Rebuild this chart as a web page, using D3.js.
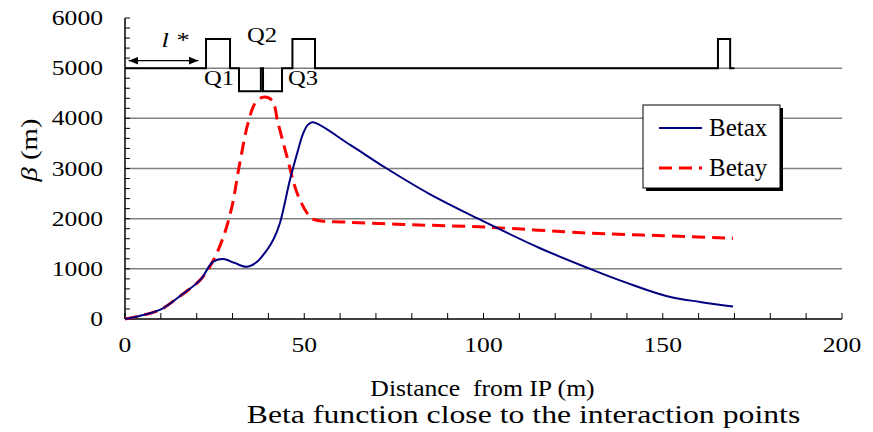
<!DOCTYPE html>
<meta charset="utf-8">
<style>
body { margin: 0; background: #fff; }
</style>
<svg width="873" height="432"></svg>
<script src="https://d3js.org/d3.v7.min.js"></script>
<script>

// beta functions (s in m, beta in m)
var betaxS = [0, 4, 10, 15, 21, 24.5, 27.3, 30.5, 33.8, 36.5, 39.6, 41.5, 43.2, 46, 48, 49.7, 51, 52.4, 62.8, 73, 85, 98.2, 115.8, 129.7, 140, 151, 160.4, 169.6];
var betax  = [0, 60, 190, 440, 780, 1140, 1195, 1120, 1040, 1120, 1375, 1600, 1910, 2770, 3300, 3700, 3870, 3920, 3470, 3000, 2490, 2010, 1410, 1000, 720, 460, 340, 250];
var betayS = [0, 4, 10, 15, 21, 24.5, 27.4, 29.8, 32, 34.3, 36.3, 38.5, 41, 42.7, 45.2, 48, 50.8, 52.4, 62, 80, 101, 129.7, 150, 169.6];
var betay  = [0, 60, 190, 440, 780, 1150, 1630, 2230, 3100, 3900, 4300, 4420, 4360, 3900, 3230, 2510, 2110, 1990, 1930, 1880, 1830, 1710, 1660, 1610];

// magnet layout (start, end in m; +1 up, -1 down)
var magStart = [22.6, 31.8, 38.5, 46.7, 165.4];
var magEnd   = [29.3, 37.9, 43.8, 53.0, 168.8];
var magSign  = [1, -1, -1, 1, 1];
var magEndS  = 170;

var xTicks = [0, 50, 100, 150, 200];
var yTicks = [0, 1000, 2000, 3000, 4000, 5000, 6000];

var svg = d3.select("svg"),
    x = d3.scaleLinear().domain([0, 200]).range([125, 842]),
    y = d3.scaleLinear().domain([0, 6000]).range([319, 18]);

// text in Times, slightly widened like the original
function txt(px, py, s, size, sx, anchor, rot) {
  return svg.append("text")
      .attr("transform", "translate(" + px + "," + py + ")" + (rot ? " rotate(" + rot + ")" : "") + " scale(" + sx + ",1)")
      .attr("text-anchor", anchor || "middle")
      .style("font-family", "'Liberation Serif'").style("font-size", size + "px")
      .style("white-space", "pre")
      .text(s);
}

// grid
svg.append("g").selectAll("line")
    .data(yTicks.slice(1, 6))
  .enter().append("line")
    .attr("x1", x(0)).attr("x2", x(200))
    .attr("y1", function(d) { return y(d); }).attr("y2", function(d) { return y(d); })
    .attr("stroke", "#808080").attr("stroke-width", 1.5);

// minor ticks
svg.append("g").selectAll("line")
    .data(d3.range(0, 6001, 200))
  .enter().append("line")
    .attr("x1", x(0)).attr("x2", x(0) + 5)
    .attr("y1", function(d) { return y(d); }).attr("y2", function(d) { return y(d); })
    .attr("stroke", "#000");
svg.append("g").selectAll("line")
    .data(d3.range(0, 201, 10))
  .enter().append("line")
    .attr("y1", y(0)).attr("y2", y(0) - 6)
    .attr("x1", function(d) { return x(d); }).attr("x2", function(d) { return x(d); })
    .attr("stroke", "#000");

// axes lines
svg.append("line").attr("x1", x(0)).attr("x2", x(0)).attr("y1", y(0)).attr("y2", y(6000))
    .attr("stroke", "#000").attr("stroke-width", 1.5);
svg.append("line").attr("x1", x(0)).attr("x2", x(200)).attr("y1", y(0)).attr("y2", y(0))
    .attr("stroke", "#000").attr("stroke-width", 1.5);

// tick labels
yTicks.forEach(function(d) { txt(103, y(d) + 7, d, 21, 1.22, "end"); });
xTicks.forEach(function(d) { txt(x(d), 352, d, 21, 1.22, "middle"); });

var yl = txt(37, 150, "", 23, 1.25, "middle", -90);
yl.append("tspan").style("font-style", "italic").text("β");
yl.append("tspan").text(" (m)");
txt(482.5, 396, "Distance  from IP (m)", 24, 1.07, "middle");
txt(523.5, 423, "Beta function close to the interaction points", 25, 1.27, "middle");

// magnet profile
var base = 5000, up = 5580, dn = 4540;
var prof = [[0, base]];
magStart.forEach(function(s, i) {
  var h = magSign[i] > 0 ? up : dn;
  prof.push([s, base], [s, h], [magEnd[i], h], [magEnd[i], base]);
});
prof.push([magEndS, base]);
svg.append("path")
    .attr("d", d3.line().x(function(d) { return x(d[0]); }).y(function(d) { return y(d[1]); })(prof))
    .attr("fill", "none").attr("stroke", "#000").attr("stroke-width", 2);

// l* arrow
var defs = svg.append("defs");
defs.append("marker").attr("id", "ah").attr("viewBox", "0 0 10 10")
    .attr("refX", 10).attr("refY", 5).attr("markerWidth", 8).attr("markerHeight", 8)
    .attr("orient", "auto-start-reverse")
  .append("path").attr("d", "M0,1 L10,5 L0,9 Z").attr("fill", "#000");
svg.append("line")
    .attr("x1", x(1)).attr("x2", x(20.5)).attr("y1", y(5150)).attr("y2", y(5150))
    .attr("stroke", "#000").attr("stroke-width", 1.2)
    .attr("marker-start", "url(#ah)").attr("marker-end", "url(#ah)");
txt(175, 47, "l *", 22, 1.2, "middle").style("font-style", "italic");
txt(219, 85, "Q1", 20, 1.23, "middle");
txt(262, 42, "Q2", 20, 1.23, "middle");
txt(303, 85, "Q3", 20, 1.23, "middle");

// curves
var line = d3.line().curve(d3.curveCatmullRom.alpha(0.5))
    .x(function(d) { return x(d[0]); }).y(function(d) { return y(d[1]); });
svg.append("path")
    .attr("d", line(betayS.map(function(s, i) { return [s, betay[i]]; })))
    .attr("fill", "none").attr("stroke", "#ff0000").attr("stroke-width", 3)
    .attr("stroke-dasharray", "13,7");
svg.append("path")
    .attr("d", line(betaxS.map(function(s, i) { return [s, betax[i]]; })))
    .attr("fill", "none").attr("stroke", "#000080").attr("stroke-width", 2);

// legend
var lg = svg.append("g").attr("transform", "translate(643,105)");
lg.append("rect").attr("x", 3).attr("y", 3).attr("width", 137).attr("height", 83).attr("fill", "#000");
lg.append("rect").attr("width", 137).attr("height", 83).attr("fill", "#fff")
    .attr("stroke", "#000").attr("stroke-width", 1);
lg.append("line").attr("x1", 16).attr("x2", 59).attr("y1", 23).attr("y2", 23)
    .attr("stroke", "#000080").attr("stroke-width", 2);
lg.append("line").attr("x1", 16).attr("x2", 59).attr("y1", 63).attr("y2", 63)
    .attr("stroke", "#ff0000").attr("stroke-width", 3).attr("stroke-dasharray", "13,7");
txt(709, 136, "Betax", 25, 1, "start");
txt(709, 176, "Betay", 25, 1, "start");

</script>
